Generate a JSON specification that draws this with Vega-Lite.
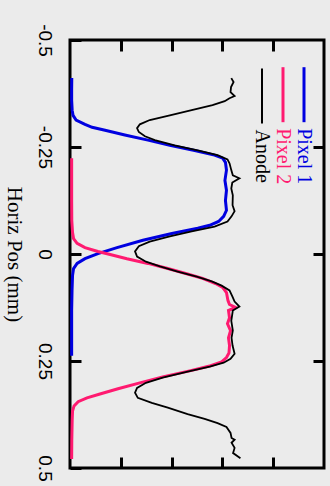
{
  "$schema": "https://vega.github.io/schema/vega-lite/v6.json",
  "width": 254,
  "height": 428,
  "autosize": "none",
  "padding": {"left": 70, "top": 40, "right": 6, "bottom": 18},
  "background": "#ebebeb",
  "view": {"stroke": "#000000", "strokeWidth": 3},
  "config": {
    "axis": {"grid": false, "domain": false, "tickColor": "#000000", "tickWidth": 3, "tickSize": -11, "ticks": true}
  },
  "data": {"values": [
    {"s":"Pixel 1","p":-0.411,"v":0.007},{"s":"Pixel 1","p":-0.383,"v":0.0065},{"s":"Pixel 1","p":-0.359,"v":0.0065},{"s":"Pixel 1","p":-0.336,"v":0.0085},{"s":"Pixel 1","p":-0.324,"v":0.012},{"s":"Pixel 1","p":-0.313,"v":0.024},{"s":"Pixel 1","p":-0.303,"v":0.059},{"s":"Pixel 1","p":-0.296,"v":0.087},{"s":"Pixel 1","p":-0.289,"v":0.138},{"s":"Pixel 1","p":-0.278,"v":0.216},{"s":"Pixel 1","p":-0.266,"v":0.307},{"s":"Pixel 1","p":-0.254,"v":0.393},{"s":"Pixel 1","p":-0.242,"v":0.491},{"s":"Pixel 1","p":-0.231,"v":0.569},{"s":"Pixel 1","p":-0.224,"v":0.601},{"s":"Pixel 1","p":-0.214,"v":0.612},{"s":"Pixel 1","p":-0.196,"v":0.616},{"s":"Pixel 1","p":-0.172,"v":0.610},{"s":"Pixel 1","p":-0.149,"v":0.616},{"s":"Pixel 1","p":-0.125,"v":0.612},{"s":"Pixel 1","p":-0.102,"v":0.616},{"s":"Pixel 1","p":-0.088,"v":0.605},{"s":"Pixel 1","p":-0.076,"v":0.585},{"s":"Pixel 1","p":-0.067,"v":0.550},{"s":"Pixel 1","p":-0.060,"v":0.503},{"s":"Pixel 1","p":-0.048,"v":0.401},{"s":"Pixel 1","p":-0.032,"v":0.287},{"s":"Pixel 1","p":-0.015,"v":0.185},{"s":"Pixel 1","p":-0.001,"v":0.110},{"s":"Pixel 1","p":0.011,"v":0.059},{"s":"Pixel 1","p":0.022,"v":0.028},{"s":"Pixel 1","p":0.034,"v":0.014},{"s":"Pixel 1","p":0.050,"v":0.010},{"s":"Pixel 1","p":0.085,"v":0.008},{"s":"Pixel 1","p":0.132,"v":0.0065},{"s":"Pixel 1","p":0.179,"v":0.0065},{"s":"Pixel 1","p":0.238,"v":0.0065},
    {"s":"Pixel 2","p":-0.224,"v":0.0065},{"s":"Pixel 2","p":-0.172,"v":0.0065},{"s":"Pixel 2","p":-0.125,"v":0.0065},{"s":"Pixel 2","p":-0.078,"v":0.007},{"s":"Pixel 2","p":-0.050,"v":0.010},{"s":"Pixel 2","p":-0.036,"v":0.014},{"s":"Pixel 2","p":-0.025,"v":0.028},{"s":"Pixel 2","p":-0.015,"v":0.059},{"s":"Pixel 2","p":-0.006,"v":0.110},{"s":"Pixel 2","p":0.001,"v":0.158},{"s":"Pixel 2","p":0.011,"v":0.224},{"s":"Pixel 2","p":0.022,"v":0.307},{"s":"Pixel 2","p":0.034,"v":0.385},{"s":"Pixel 2","p":0.046,"v":0.459},{"s":"Pixel 2","p":0.057,"v":0.522},{"s":"Pixel 2","p":0.069,"v":0.573},{"s":"Pixel 2","p":0.078,"v":0.601},{"s":"Pixel 2","p":0.090,"v":0.616},{"s":"Pixel 2","p":0.109,"v":0.622},{"s":"Pixel 2","p":0.118,"v":0.628},{"s":"Pixel 2","p":0.125,"v":0.652},{"s":"Pixel 2","p":0.132,"v":0.624},{"s":"Pixel 2","p":0.149,"v":0.628},{"s":"Pixel 2","p":0.163,"v":0.620},{"s":"Pixel 2","p":0.179,"v":0.632},{"s":"Pixel 2","p":0.196,"v":0.624},{"s":"Pixel 2","p":0.214,"v":0.628},{"s":"Pixel 2","p":0.231,"v":0.626},{"s":"Pixel 2","p":0.242,"v":0.616},{"s":"Pixel 2","p":0.252,"v":0.597},{"s":"Pixel 2","p":0.261,"v":0.554},{"s":"Pixel 2","p":0.273,"v":0.471},{"s":"Pixel 2","p":0.287,"v":0.365},{"s":"Pixel 2","p":0.301,"v":0.275},{"s":"Pixel 2","p":0.315,"v":0.189},{"s":"Pixel 2","p":0.327,"v":0.118},{"s":"Pixel 2","p":0.336,"v":0.067},{"s":"Pixel 2","p":0.345,"v":0.032},{"s":"Pixel 2","p":0.355,"v":0.016},{"s":"Pixel 2","p":0.367,"v":0.010},{"s":"Pixel 2","p":0.390,"v":0.0085},{"s":"Pixel 2","p":0.437,"v":0.007},{"s":"Pixel 2","p":0.479,"v":0.0065},
    {"s":"Anode","p":-0.411,"v":0.635},{"s":"Anode","p":-0.402,"v":0.644},{"s":"Anode","p":-0.390,"v":0.634},{"s":"Anode","p":-0.378,"v":0.632},{"s":"Anode","p":-0.369,"v":0.648},{"s":"Anode","p":-0.364,"v":0.628},{"s":"Anode","p":-0.357,"v":0.609},{"s":"Anode","p":-0.348,"v":0.561},{"s":"Anode","p":-0.336,"v":0.479},{"s":"Anode","p":-0.324,"v":0.393},{"s":"Anode","p":-0.313,"v":0.314},{"s":"Anode","p":-0.303,"v":0.275},{"s":"Anode","p":-0.294,"v":0.264},{"s":"Anode","p":-0.285,"v":0.271},{"s":"Anode","p":-0.275,"v":0.295},{"s":"Anode","p":-0.266,"v":0.334},{"s":"Anode","p":-0.254,"v":0.412},{"s":"Anode","p":-0.242,"v":0.503},{"s":"Anode","p":-0.231,"v":0.581},{"s":"Anode","p":-0.221,"v":0.620},{"s":"Anode","p":-0.212,"v":0.628},{"s":"Anode","p":-0.196,"v":0.635},{"s":"Anode","p":-0.184,"v":0.641},{"s":"Anode","p":-0.177,"v":0.667},{"s":"Anode","p":-0.167,"v":0.639},{"s":"Anode","p":-0.153,"v":0.635},{"s":"Anode","p":-0.137,"v":0.641},{"s":"Anode","p":-0.114,"v":0.640},{"s":"Anode","p":-0.100,"v":0.648},{"s":"Anode","p":-0.088,"v":0.636},{"s":"Anode","p":-0.076,"v":0.620},{"s":"Anode","p":-0.064,"v":0.569},{"s":"Anode","p":-0.053,"v":0.479},{"s":"Anode","p":-0.041,"v":0.393},{"s":"Anode","p":-0.029,"v":0.314},{"s":"Anode","p":-0.018,"v":0.271},{"s":"Anode","p":-0.006,"v":0.256},{"s":"Anode","p":0.006,"v":0.264},{"s":"Anode","p":0.018,"v":0.299},{"s":"Anode","p":0.029,"v":0.354},{"s":"Anode","p":0.041,"v":0.424},{"s":"Anode","p":0.053,"v":0.499},{"s":"Anode","p":0.064,"v":0.558},{"s":"Anode","p":0.074,"v":0.597},{"s":"Anode","p":0.085,"v":0.628},{"s":"Anode","p":0.100,"v":0.640},{"s":"Anode","p":0.111,"v":0.648},{"s":"Anode","p":0.123,"v":0.667},{"s":"Anode","p":0.132,"v":0.641},{"s":"Anode","p":0.156,"v":0.635},{"s":"Anode","p":0.179,"v":0.641},{"s":"Anode","p":0.196,"v":0.636},{"s":"Anode","p":0.214,"v":0.640},{"s":"Anode","p":0.233,"v":0.648},{"s":"Anode","p":0.245,"v":0.632},{"s":"Anode","p":0.254,"v":0.605},{"s":"Anode","p":0.263,"v":0.550},{"s":"Anode","p":0.275,"v":0.463},{"s":"Anode","p":0.289,"v":0.365},{"s":"Anode","p":0.301,"v":0.299},{"s":"Anode","p":0.313,"v":0.264},{"s":"Anode","p":0.324,"v":0.256},{"s":"Anode","p":0.336,"v":0.267},{"s":"Anode","p":0.348,"v":0.322},{"s":"Anode","p":0.359,"v":0.385},{"s":"Anode","p":0.374,"v":0.463},{"s":"Anode","p":0.385,"v":0.530},{"s":"Anode","p":0.395,"v":0.581},{"s":"Anode","p":0.404,"v":0.616},{"s":"Anode","p":0.418,"v":0.632},{"s":"Anode","p":0.430,"v":0.636},{"s":"Anode","p":0.434,"v":0.648},{"s":"Anode","p":0.441,"v":0.636},{"s":"Anode","p":0.453,"v":0.648},{"s":"Anode","p":0.465,"v":0.642},{"s":"Anode","p":0.477,"v":0.671}
  ]},
  "resolve": {"axis": {"x": "independent", "y": "independent"}},
  "encoding": {
    "order": {"field": "p", "type": "quantitative"},
    "color": {
      "field": "s", "type": "nominal",
      "scale": {"domain": ["Anode", "Pixel 2", "Pixel 1"], "range": ["#000000", "#ff1a70", "#0000e0"]},
      "legend": {
        "orient": "none", "legendX": 182, "legendY": 44.5,
        "direction": "horizontal", "title": null, "padding": 0, "columnPadding": 0,
        "symbolType": "M0,-1L0,1", "symbolSize": 3025, "symbolStrokeWidth": 3,
        "labelFont": "Liberation Serif", "labelFontSize": 20,
        "encode": {
          "symbols": {"update": {"strokeWidth": {"signal": "datum.value === 'Anode' ? 2 : 3"}}},
          "labels": {"update": {
            "angle": {"value": 90}, "align": {"value": "left"}, "baseline": {"value": "middle"},
            "x": {"signal": "datum.size * 0.5"}, "y": {"signal": "datum.size * 0.5 + 33.5"},
            "fill": {"scale": "color", "field": "value"}
          }}
        }
      }
    }
  },
  "layer": [
    {
      "transform": [{"filter": "datum.s === 'Pixel 1'"}],
      "mark": {"type": "line", "strokeWidth": 3},
      "encoding": {
        "x": {"field": "v", "type": "quantitative", "scale": {"domain": [0, 1]},
              "axis": {"orient": "bottom", "values": [0.2, 0.4, 0.6, 0.8], "labels": false, "title": null}},
        "y": {"field": "p", "type": "quantitative", "scale": {"domain": [-0.5, 0.5], "reverse": true},
              "axis": {"orient": "left", "values": [-0.5, -0.25, 0, 0.25, 0.5],
                       "labelExpr": "'' + datum.value", "labelAngle": 90, "labelAlign": "center", "labelBaseline": "middle",
                       "labelPadding": 37, "labelFont": "Liberation Sans", "labelFontSize": 19, "labelColor": "#000000", "labelFlush": false,
                       "title": "Horiz Pos (mm)", "titleFont": "Liberation Serif", "titleFontSize": 21, "titleFontWeight": "normal",
                       "titleColor": "#000000", "titleAngle": 90, "titleAlign": "center", "titleBaseline": "middle",
                       "titleX": -57, "titleY": 214}}
      }
    },
    {
      "transform": [{"filter": "datum.s === 'Pixel 2'"}],
      "mark": {"type": "line", "strokeWidth": 3},
      "encoding": {
        "x": {"field": "v", "type": "quantitative", "scale": {"domain": [0, 1]},
              "axis": {"orient": "top", "values": [0.2, 0.4, 0.6, 0.8], "labels": false, "title": null}},
        "y": {"field": "p", "type": "quantitative", "scale": {"domain": [-0.5, 0.5], "reverse": true},
              "axis": {"orient": "right", "values": [-0.25, 0, 0.25], "labels": false, "title": null}}
      }
    },
    {
      "transform": [{"filter": "datum.s === 'Anode'"}],
      "mark": {"type": "line", "strokeWidth": 1.8},
      "encoding": {
        "x": {"field": "v", "type": "quantitative", "scale": {"domain": [0, 1]}, "axis": null},
        "y": {"field": "p", "type": "quantitative", "scale": {"domain": [-0.5, 0.5], "reverse": true}, "axis": null}
      }
    }
  ]
}
